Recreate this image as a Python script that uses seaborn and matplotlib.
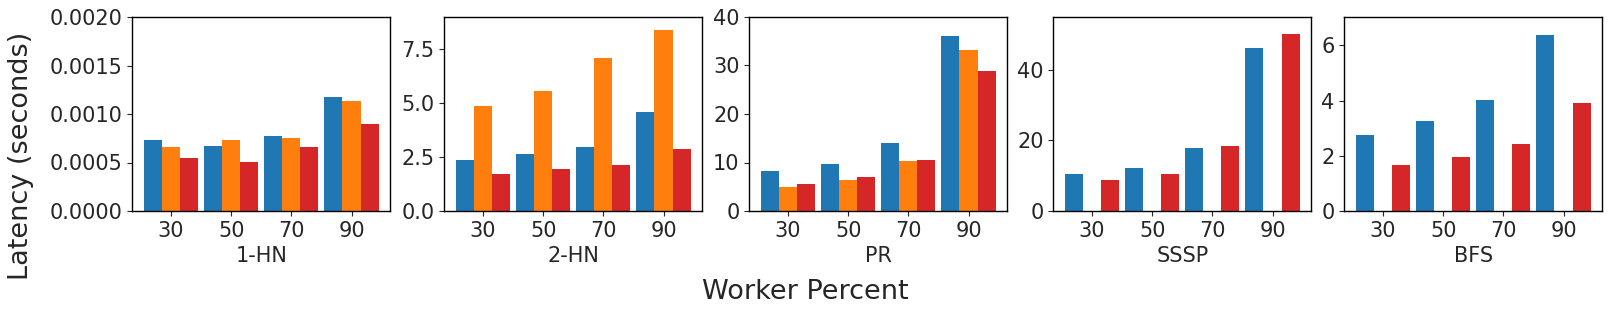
import matplotlib
matplotlib.use("Agg")
import matplotlib.pyplot as plt
import seaborn as sns
import pandas as pd
import numpy as np

workers = ["30", "50", "70", "90"]
series = ["S1", "S2", "S3"]
colors = ["#1f77b4", "#ff7f0e", "#d62728"]
algos = ["1-HN", "2-HN", "PR", "SSSP", "BFS"]

hn1_s1 = [0.000729, 0.000667, 0.000771, 0.001177]
hn1_s2 = [0.000656, 0.000729, 0.000750, 0.001135]
hn1_s3 = [0.000542, 0.000510, 0.000656, 0.000896]

hn2_s1 = [2.38, 2.66, 2.98, 4.57]
hn2_s2 = [4.85, 5.59, 7.08, 8.39]
hn2_s3 = [1.72, 1.96, 2.14, 2.89]

pr_s1 = [8.26, 9.71, 14.04, 36.14]
pr_s2 = [4.96, 6.40, 10.33, 33.25]
pr_s3 = [5.58, 7.02, 10.53, 28.92]

sssp_s1 = [10.5, 12.2, 17.9, 46.35]
sssp_s2 = [None, None, None, None]
sssp_s3 = [8.8, 10.5, 18.5, 50.05]

bfs_s1 = [2.76, 3.27, 4.03, 6.39]
bfs_s2 = [None, None, None, None]
bfs_s3 = [1.67, 1.96, 2.43, 3.92]

data = {
    "1-HN": (hn1_s1, hn1_s2, hn1_s3),
    "2-HN": (hn2_s1, hn2_s2, hn2_s3),
    "PR": (pr_s1, pr_s2, pr_s3),
    "SSSP": (sssp_s1, sssp_s2, sssp_s3),
    "BFS": (bfs_s1, bfs_s2, bfs_s3),
}
ylims = {"1-HN": 0.002, "2-HN": 9.0, "PR": 40, "SSSP": 55.0, "BFS": 7.03}

sns.set_style("ticks")
plt.rcParams["font.family"] = ["DejaVu Sans"]

W, H = 1611, 311
fig = plt.figure(figsize=(W / 100, H / 100), dpi=100)
lefts = [132.3, 444.3, 749.3, 1053.3, 1344.3]
aw = 258.0
top, bot = 17.0, 211.0

for i, algo in enumerate(algos):
    rows = []
    for sname, vals in zip(series, data[algo]):
        for w, v in zip(workers, vals):
            if v is not None:
                rows.append({"Worker": w, "Series": sname, "Latency": v})
    df = pd.DataFrame(rows)
    ax = fig.add_axes([lefts[i] / W, (H - bot) / H, aw / W, (bot - top) / H])
    sns.barplot(data=df, x="Worker", y="Latency", hue="Series",
                order=workers, hue_order=series, palette=colors,
                width=0.9, gap=0, dodge=True, legend=False, ax=ax,
                saturation=1, errorbar=None, linewidth=0, edgecolor="none")
    ax.set_xlim(-0.645, 3.645)
    ax.set_ylim(0, ylims[algo])
    ax.set_xlabel(algo, fontsize=15)
    ax.set_ylabel("")
    ax.tick_params(labelsize=15)
    for s in ax.spines.values():
        s.set_visible(True)
        s.set_color("black")
        s.set_linewidth(1.0)

fig.supxlabel("Worker Percent", fontsize=19.5, x=805 / W, y=0.02, va="bottom")
fig.supylabel("Latency (seconds)", fontsize=19.5, x=0.005, y=0.5)

fig.savefig("out.png", dpi=100)
